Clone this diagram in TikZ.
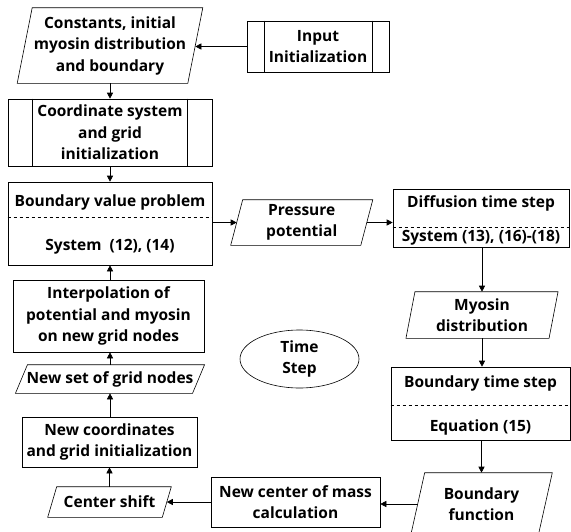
\documentclass[tikz,border=0pt]{standalone}
\usepackage{fontspec}
\setmainfont{Open Sans}
\usetikzlibrary{arrows.meta,shapes.geometric}

\begin{document}
\begin{tikzpicture}[x=1pt,y=-1pt,line width=0.6pt,
  every node/.style={font=\bfseries\fontsize{15.5}{21.5}\selectfont,align=center,inner sep=0pt},
  block/.style={draw,rectangle},
  io/.style={rectangle}, % slanted outline drawn below
  flow/.style={-{Triangle[length=6pt,width=6pt]}}]

\useasboundingbox (0,0) rectangle (571,531);
\clip (0,0) rectangle (571,531);

\node [io,minimum width=170,minimum height=75] (const) at (110,45.5) {Constants, initial\\myosin distribution\\and boundary};
\node [block,minimum width=142,minimum height=51] (inp) at (318,46.5) {Input\\Initialization};
\node [block,minimum width=204,minimum height=67] (coord) at (110,132.5) {Coordinate system\\and grid\\initialization};

\node [block,minimum width=204,minimum height=83] (bvp) at (110,223.5) {};
\node (bvpa) at (110,202) {Boundary value problem};
\node (bvpb) at (110,247) {System~~(12), (14)};

\node [io,minimum width=129.5,minimum height=45] (press) at (301.75,222.5) {Pressure\\potential};

\node [block,minimum width=176,minimum height=58] (diff) at (481,218) {};
\node (diffa) at (481,203) {Diffusion time step};
\node (diffb) at (481,238) {System (13), (16)-(18)};

\node [io,minimum width=142.5,minimum height=46] (myo) at (482,315) {Myosin\\distribution};

\node [block,minimum width=179,minimum height=73] (bts) at (480.5,403.5) {};
\node (btsa) at (480.5,383) {Boundary time step};
\node (btsb) at (480.5,427) {Equation (15)};

\node [io,minimum width=127,minimum height=62] (bfun) at (481.5,504) {Boundary\\function};
\node [block,minimum width=169,minimum height=50] (newc) at (295.5,502) {New center of mass\\calculation};
\node [io,minimum width=114,minimum height=30] (shift) at (109.5,502) {Center shift};
\node [block,minimum width=175,minimum height=50] (newco) at (109.5,442) {New coordinates\\and grid initialization};
\node [io,minimum width=176.5,minimum height=28] (nset) at (110,379) {New set of grid nodes};
\node [block,minimum width=191,minimum height=72] (interp) at (108.5,316) {Interpolation of\\potential and myosin\\on new grid nodes};
\node [draw,ellipse,minimum width=119,minimum height=58] (time) at (299.5,359) {Time\\Step};

% slanted boxes
\foreach \n/\s in {const/7.5,press/6,myo/4.5,bfun/7,shift/4.5,nset/6}
  \draw ([xshift=\s pt]\n.north west) -- ([xshift=\s pt]\n.north east) -- ([xshift=-\s pt]\n.south east) -- ([xshift=-\s pt]\n.south west) -- cycle;
% side bars
\foreach \n/\s in {inp/17.5,coord/25}
  \draw ([xshift=\s pt]\n.north west) -- ([xshift=\s pt]\n.south west) ([xshift=-\s pt]\n.north east) -- ([xshift=-\s pt]\n.south east);
% dashed dividers
\draw [dashed] (bvp.west |- 0,217) -- (bvp.east |- 0,217);
\draw [dashed] (diff.west |- 0,227) -- (diff.east |- 0,227);
\draw [dashed] (bts.west |- 0,405) -- (bts.east |- 0,405);

\draw [flow] (inp.west) -- (inp.west -| const.east);
\draw [flow] (const.south) -- (const.south |- coord.north);
\draw [flow] (coord.south) -- (coord.south |- bvp.north);
\draw [flow] (bvp.east |- press.west) -- (press.west);
\draw [flow] (press.east) -- (press.east -| diff.west);
\draw [flow] (myo.north |- diff.south) -- (myo.north);
\draw [flow] (myo.south) -- (myo.south |- bts.north);
\draw [flow] (bfun.north |- bts.south) -- (bfun.north);
\draw [flow] (bfun.west) -- (bfun.west -| newc.east);
\draw [flow] (newc.west) -- (newc.west -| shift.east);
\draw [flow] (shift.north) -- (shift.north |- newco.south);
\draw [flow] (nset.south |- newco.north) -- (nset.south);
\draw [flow] (nset.north) -- (nset.north |- interp.south);
\draw [flow] (bvp.south |- interp.north) -- (bvp.south);

\end{tikzpicture}
\end{document}
